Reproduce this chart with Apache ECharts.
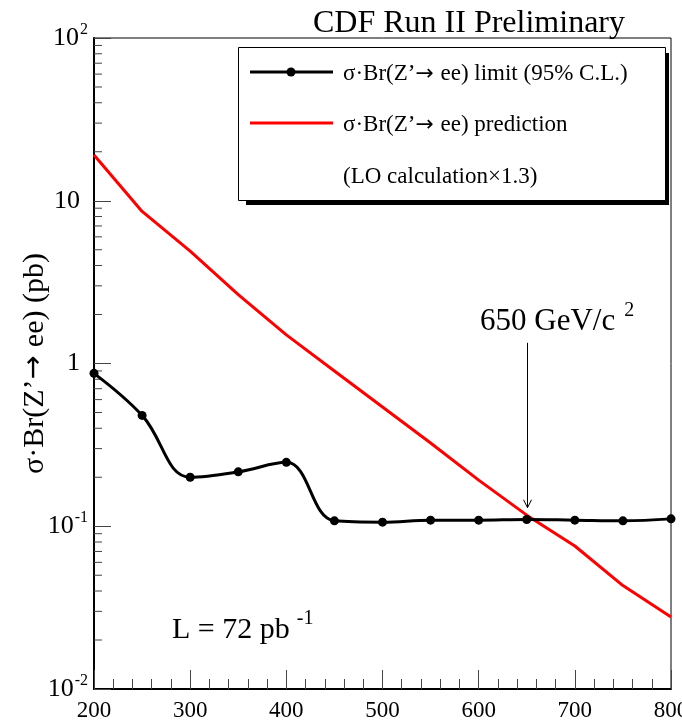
<!DOCTYPE html>
<html>
<head>
<meta charset="utf-8">
<script src="https://cdn.jsdelivr.net/npm/echarts@6/dist/echarts.min.js"></script>
<style>
  html, body { margin: 0; padding: 0; background: #fff; }
  #chart { width: 682px; height: 720px; }
</style>
</head>
<body>
<div id="chart"></div>
<script>
// Z' mass points (GeV/c^2)
const masses = [200, 250, 300, 350, 400, 450, 500, 550, 600, 650, 700, 750, 800];
// 95% C.L. upper limit on sigma*Br(Z'->ee), pb
const limitValues = [0.87, 0.48, 0.20, 0.216, 0.247, 0.108, 0.106, 0.109, 0.109, 0.110, 0.109, 0.108, 0.111];
// LO prediction x 1.3, pb
const predictionValues = [19.1, 8.6, 4.9, 2.65, 1.50, 0.90, 0.54, 0.325, 0.192, 0.117, 0.0756, 0.0432, 0.0277];

// axis layout
const xRange = [200, 800];
const xStep = 100;
const yDecades = [-2, -1, 0, 1, 2];
const yMinorMultipliers = [2, 3, 4, 5, 6, 7, 8, 9];

// annotation
const crossingMass = 650;
const arrowTopValue = 1.34;
const arrowTipValue = 0.13;

const SERIF = '"Liberation Serif", "DejaVu Serif", serif';
const ARROW_FONT = '"DejaVu Sans", sans-serif';

const yMinorTicks = [];
for (let k = yDecades[0]; k < yDecades[yDecades.length - 1]; k++) {
  yMinorMultipliers.forEach(m => yMinorTicks.push([xRange[0], m * Math.pow(10, k)]));
}

function yLabel(v) {
  const e = Math.round(Math.log10(v));
  if (e === 0) return '{b|1}{e| }';
  if (e === 1) return '{b|10}{e| }';
  return '{b|10}{s|' + e + '}';
}

// text with a proper arrow glyph
function arrowRich(size) {
  return {
    t: { fill: '#000', color: '#000', fontFamily: SERIF, fontSize: size },
    a: { fill: '#000', color: '#000', fontFamily: ARROW_FONT, fontSize: size * 0.95, padding: [0, 1, 0, 0] }
  };
}

const chart = echarts.init(document.getElementById('chart'), null, { renderer: 'canvas' });

const option = {
  animation: false,
  backgroundColor: '#ffffff',
  grid: {
    left: 94, right: 11, top: 38, bottom: 31,
    outerBoundsMode: 'none',
    containLabel: false,
    show: true, borderColor: '#000', borderWidth: 1, backgroundColor: 'transparent'
  },
  xAxis: {
    type: 'value',
    min: xRange[0], max: xRange[1], interval: xStep,
    axisLine: { show: true, lineStyle: { color: '#000', width: 2 } },
    axisTick: { show: true, inside: true, length: 19, lineStyle: { color: '#444', width: 1 } },
    minorTick: { show: true, splitNumber: 5, length: 10, lineStyle: { color: '#444', width: 1 } },
    splitLine: { show: false },
    axisLabel: {
      color: '#000', fontFamily: SERIF, fontSize: 23, margin: 10,
      showMinLabel: true, showMaxLabel: true, hideOverlap: false
    }
  },
  yAxis: {
    type: 'log', logBase: 10, min: 0.01, max: 100, splitNumber: 4,
    axisLine: { show: true, lineStyle: { color: '#000', width: 2 } },
    axisTick: { show: true, inside: true, length: 17, lineStyle: { color: '#444', width: 1 } },
    splitLine: { show: false },
    axisLabel: {
      margin: 6,
      formatter: yLabel,
      rich: {
        b: { color: '#000', fontFamily: SERIF, fontSize: 26 },
        s: { color: '#000', fontFamily: SERIF, fontSize: 16, padding: [0, 0, 17, 1] },
        e: { fontSize: 16, width: 8 }
      }
    }
  },
  series: [
    {
      name: 'minor ticks',
      type: 'custom',
      silent: true,
      data: yMinorTicks,
      renderItem: function (params, api) {
        const p = api.coord([api.value(0), api.value(1)]);
        return {
          type: 'line',
          shape: { x1: p[0], y1: p[1], x2: p[0] + 8, y2: p[1] },
          style: { stroke: '#444', lineWidth: 1 }
        };
      },
      z: 1
    },
    {
      name: 'prediction',
      type: 'line',
      data: masses.map((m, i) => [m, predictionValues[i]]),
      showSymbol: false,
      symbol: 'none',
      lineStyle: { color: '#ff0000', width: 3 },
      z: 2
    },
    {
      name: 'limit',
      type: 'line',
      data: masses.map((m, i) => [m, limitValues[i]]),
      smooth: 0.4,
      symbol: 'circle',
      symbolSize: 9,
      itemStyle: { color: '#000' },
      lineStyle: { color: '#000', width: 3 },
      clip: false,
      z: 3
    }
  ]
};

chart.setOption(option);

// annotations placed through the grid's coordinate system
const arrowStart = chart.convertToPixel({ gridIndex: 0 }, [crossingMass, arrowTopValue]);
const arrowEnd = chart.convertToPixel({ gridIndex: 0 }, [crossingMass, arrowTipValue]);
const ax = Math.round(arrowEnd[0]) + 0.5;
const gridRect = chart.getModel().getComponent('grid', 0).coordinateSystem.getRect();

const LEG = 23;

chart.setOption({
  graphic: [
    // title
    {
      type: 'text',
      style: { x: 469, y: 24, text: 'CDF Run II Preliminary', fill: '#000',
        font: '32px ' + SERIF, textAlign: 'center', textVerticalAlign: 'middle' },
      z: 10
    },
    // y axis title
    {
      type: 'text',
      x: 35, y: gridRect.y + gridRect.height / 2, rotation: Math.PI / 2,
      style: {
        text: '{t|σ·Br(Z’}{a|→}{t| ee) (pb)}', textAlign: 'center', textVerticalAlign: 'middle',
        rich: arrowRich(30)
      },
      z: 10
    },
    // legend shadow + box
    { type: 'rect', shape: { x: 246, y: 53, width: 423, height: 152 }, style: { fill: '#000' }, z: 10 },
    { type: 'rect', shape: { x: 238.5, y: 47.5, width: 427, height: 153 }, style: { fill: '#fff', stroke: '#000', lineWidth: 1 }, z: 11 },
    { type: 'line', shape: { x1: 250, y1: 72, x2: 333, y2: 72 }, style: { stroke: '#000', lineWidth: 3 }, z: 12 },
    { type: 'circle', shape: { cx: 291, cy: 72, r: 4.5 }, style: { fill: '#000' }, z: 12 },
    { type: 'line', shape: { x1: 250, y1: 123, x2: 333, y2: 123 }, style: { stroke: '#ff0000', lineWidth: 3 }, z: 12 },
    { type: 'text', style: { x: 343, y: 74, text: '{t|σ·Br(Z’}{a|→}{t| ee) limit (95% C.L.)}', textVerticalAlign: 'middle', rich: arrowRich(LEG) }, z: 12 },
    { type: 'text', style: { x: 343, y: 125, text: '{t|σ·Br(Z’}{a|→}{t| ee) prediction}', textVerticalAlign: 'middle', rich: arrowRich(LEG) }, z: 12 },
    { type: 'text', style: { x: 343, y: 177, text: '(LO calculation×1.3)', fill: '#000', font: LEG + 'px ' + SERIF, textVerticalAlign: 'middle' }, z: 12 },
    // mass limit arrow
    { type: 'line', shape: { x1: ax, y1: arrowStart[1], x2: ax, y2: arrowEnd[1] }, style: { stroke: '#000', lineWidth: 1 }, z: 12 },
    { type: 'polyline', shape: { points: [[ax - 4, arrowEnd[1] - 8], [ax, arrowEnd[1]], [ax + 4, arrowEnd[1] - 8]] }, style: { stroke: '#000', lineWidth: 1, fill: null }, z: 12 },
    {
      type: 'text',
      style: {
        x: 480, y: 322, text: '{a|650 GeV/c}{s|2}', textVerticalAlign: 'middle',
        rich: {
          a: { fill: '#000', font: '31px ' + SERIF },
          s: { fill: '#000', font: '20px ' + SERIF, padding: [0, 0, 22, 9] }
        }
      }, z: 12
    },
    // luminosity
    {
      type: 'text',
      style: {
        x: 172, y: 630, text: '{a|L = 72 pb}{s|-1}', textVerticalAlign: 'middle',
        rich: {
          a: { fill: '#000', font: '30px ' + SERIF },
          s: { fill: '#000', font: '20px ' + SERIF, padding: [0, 0, 22, 7] }
        }
      }, z: 12
    }
  ]
});
</script>
</body>
</html>
